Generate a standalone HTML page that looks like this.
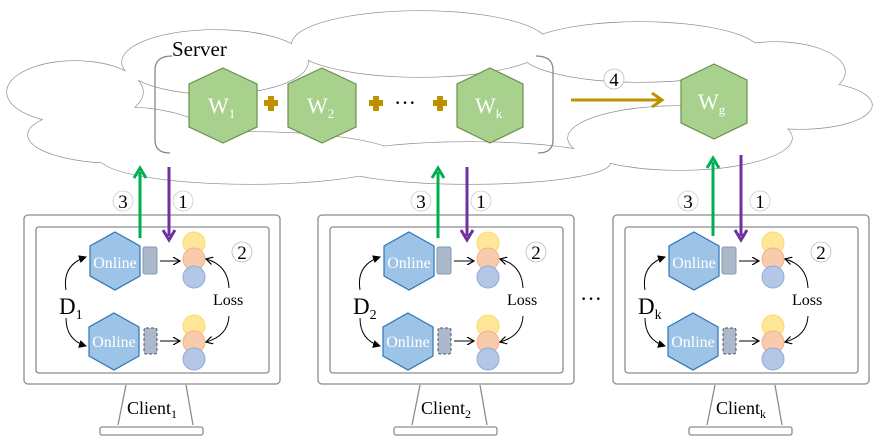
<!DOCTYPE html>
<html><head><meta charset="utf-8"><style>
html,body{margin:0;padding:0;background:#fff;font-family:"Liberation Serif","Times New Roman","DejaVu Serif",serif;}
svg{display:block;}
text,tspan{font-family:"Liberation Serif","Times New Roman","DejaVu Serif",serif !important;}
</style></head><body>
<svg width="884" height="447" viewBox="0 0 884 447" xmlns="http://www.w3.org/2000/svg" style="font-family:'Liberation Serif','Times New Roman','DejaVu Serif',serif">
<defs>
<marker id="ab" markerWidth="8" markerHeight="8" refX="7" refY="4" orient="auto" markerUnits="userSpaceOnUse"><path d="M0,0 L7,4 L0,8" fill="none" stroke="#000" stroke-width="1.2"/></marker>
<marker id="af" markerWidth="8" markerHeight="8" refX="7" refY="4" orient="auto" markerUnits="userSpaceOnUse"><path d="M0,0 L8,4 L0,8 z" fill="#000"/></marker>
</defs>
<g fill="none" stroke="#8a8a8a" stroke-width="1.3">
<ellipse cx="75" cy="92" rx="68" ry="31"/>
<ellipse cx="118" cy="135" rx="90" ry="28"/>
<ellipse cx="215" cy="62" rx="93" ry="32"/>
<ellipse cx="250" cy="158" rx="150" ry="26"/>
<ellipse cx="420" cy="44" rx="128" ry="33"/>
<ellipse cx="640" cy="52" rx="120" ry="30"/>
<ellipse cx="775" cy="72" rx="70" ry="30"/>
<ellipse cx="800" cy="105" rx="72" ry="24"/>
<ellipse cx="680" cy="138" rx="112" ry="32"/>
<ellipse cx="470" cy="163" rx="140" ry="21"/>
</g>
<g fill="#fff" stroke="none">
<ellipse cx="75" cy="92" rx="68" ry="31"/>
<ellipse cx="118" cy="135" rx="90" ry="28"/>
<ellipse cx="215" cy="62" rx="93" ry="32"/>
<ellipse cx="250" cy="158" rx="150" ry="26"/>
<ellipse cx="420" cy="44" rx="128" ry="33"/>
<ellipse cx="640" cy="52" rx="120" ry="30"/>
<ellipse cx="775" cy="72" rx="70" ry="30"/>
<ellipse cx="800" cy="105" rx="72" ry="24"/>
<ellipse cx="680" cy="138" rx="112" ry="32"/>
<ellipse cx="470" cy="163" rx="140" ry="21"/>
</g>
<text x="172" y="56" font-size="21">Server</text>
<path d="M172,56 Q155,56 155,70 L155,140 Q155,153 170,153" fill="none" stroke="#888" stroke-width="1.3"/>
<path d="M536,56 Q553,56 553,70 L553,140 Q553,153 538,153" fill="none" stroke="#888" stroke-width="1.3"/>
<g fill="#a9d18e" stroke="#6b8f4a" stroke-width="1.2">
<polygon points="223,68 257,84 257,127 223,143 189,127 189,84"/>
<polygon points="322,68 356,84 356,127 322,143 288,127 288,84"/>
<polygon points="490,68 523,84 523,127 490,143 457,127 457,84"/>
<polygon points="714,64 747,80 747,123 714,139 681,123 681,80"/>
</g>
<g fill="#fff" font-size="22">
<text x="208" y="113">W<tspan font-size="13" dy="5">1</tspan></text>
<text x="307" y="113">W<tspan font-size="13" dy="5">2</tspan></text>
<text x="475" y="113">W<tspan font-size="13" dy="5">k</tspan></text>
<text x="698" y="109">W<tspan font-size="13" dy="5">g</tspan></text>
</g>
<g fill="#bf9000">
<rect x="268" y="96" width="6" height="15"/><rect x="264" y="100" width="14" height="6"/>
<rect x="373" y="96" width="6" height="15"/><rect x="369" y="100" width="14" height="6"/>
<rect x="437" y="96" width="6" height="15"/><rect x="433" y="100" width="14" height="6"/>
</g>
<text x="394" y="110" font-size="22">···</text>
<line x1="571" y1="100" x2="660" y2="100" stroke="#bf9000" stroke-width="3"/>
<path d="M652,93 L662,100 L652,107" fill="none" stroke="#bf9000" stroke-width="3"/>
<circle cx="614" cy="79" r="10" fill="#fff" stroke="#bbb" stroke-width="0.8"/>
<text x="614" y="86" font-size="19" text-anchor="middle">4</text>

<g id="mon" fill="#fff" stroke="#8c8c8c" stroke-width="1.3">
<rect x="24" y="215" width="256" height="169" rx="4"/>
<rect x="36" y="227" width="233" height="146" rx="3"/>
<path d="M126,385 L118,425 M186,385 L193,425"/>
<rect x="100" y="427" width="103" height="8" rx="2"/>
</g>
<use href="#mon" x="294"/>
<use href="#mon" x="589"/>

<g id="cc">
<polygon points="115,232 140,246 140,276 115,290 90,276 90,246" fill="#9dc3e6" stroke="#2e75b6" stroke-width="1.2"/>
<polygon points="114,313 139,327 139,356 114,370 89,356 89,327" fill="#9dc3e6" stroke="#2e75b6" stroke-width="1.2"/>
<text x="115" y="268" font-size="16" fill="#fff" text-anchor="middle">Online</text>
<text x="114" y="347" font-size="16" fill="#fff" text-anchor="middle">Online</text>
<rect x="143" y="247" width="14" height="27" rx="2" fill="#acb9ca" stroke="#8497b0"/>
<rect x="144" y="328" width="13" height="26" rx="2" fill="#acb9ca" stroke="#44546a" stroke-dasharray="3,2"/>
<line x1="160" y1="261" x2="180" y2="261" stroke="#000" stroke-width="1" marker-end="url(#ab)"/>
<line x1="160" y1="341" x2="180" y2="341" stroke="#000" stroke-width="1" marker-end="url(#ab)"/>
<g stroke-width="1">
<circle cx="194" cy="243" r="11" fill="#ffe699" stroke="#ffd966"/>
<circle cx="194" cy="259" r="11" fill="#f8cbad" stroke="#f4b183"/>
<circle cx="194" cy="277" r="11" fill="#b4c7e7" stroke="#8faadc"/>
<circle cx="194" cy="326" r="11" fill="#ffe699" stroke="#ffd966"/>
<circle cx="194" cy="342" r="11" fill="#f8cbad" stroke="#f4b183"/>
<circle cx="194" cy="359" r="11" fill="#b4c7e7" stroke="#8faadc"/>
</g>
<path d="M66,290 Q62,265 86,257" fill="none" stroke="#000" marker-end="url(#af)"/>
<path d="M66,318 Q66,340 86,346" fill="none" stroke="#000" marker-end="url(#af)"/>
<path d="M229,288 Q228,265 206,259" fill="none" stroke="#000" marker-end="url(#ab)"/>
<path d="M229,316 Q228,336 206,342" fill="none" stroke="#000" marker-end="url(#ab)"/>
<text x="213" y="305" font-size="16">Loss</text>
<circle cx="242" cy="252" r="10" fill="#fff" stroke="#bbb" stroke-width="0.8"/>
<text x="242" y="259" font-size="19" text-anchor="middle">2</text>
</g>
<use href="#cc" x="294"/>
<use href="#cc" x="579"/>
<text x="59" y="314" font-size="23">D<tspan font-size="14" dy="5">1</tspan></text>
<text x="127" y="414" font-size="18">Client<tspan font-size="12" dy="4">1</tspan></text>
<text x="353" y="314" font-size="23">D<tspan font-size="14" dy="5">2</tspan></text>
<text x="421" y="414" font-size="18">Client<tspan font-size="12" dy="4">2</tspan></text>
<text x="638" y="314" font-size="23">D<tspan font-size="14" dy="5">k</tspan></text>
<text x="716" y="414" font-size="18">Client<tspan font-size="12" dy="4">k</tspan></text>
<text x="580" y="306" font-size="22">···</text>

<g id="va">
<line x1="140" y1="238" x2="140" y2="172" stroke="#00b050" stroke-width="3"/>
<path d="M134,178 L140,168 L146,178" fill="none" stroke="#00b050" stroke-width="3"/>
<line x1="169" y1="167" x2="169" y2="236" stroke="#7030a0" stroke-width="3"/>
<path d="M163,230 L169,240 L175,230" fill="none" stroke="#7030a0" stroke-width="3"/>
<circle cx="123" cy="201" r="10" fill="#fff" stroke="#ccc" stroke-width="0.8"/>
<text x="123" y="208" font-size="19" text-anchor="middle">3</text>
<circle cx="183" cy="201" r="10" fill="#fff" stroke="#ccc" stroke-width="0.8"/>
<text x="183" y="208" font-size="19" text-anchor="middle">1</text>
</g>
<use href="#va" x="298"/>
<g transform="translate(573,-10)">
<line x1="140" y1="246" x2="140" y2="172" stroke="#00b050" stroke-width="3"/>
<path d="M134,178 L140,168 L146,178" fill="none" stroke="#00b050" stroke-width="3"/>
<line x1="168" y1="165" x2="168" y2="246" stroke="#7030a0" stroke-width="3"/>
<path d="M162,240 L168,250 L174,240" fill="none" stroke="#7030a0" stroke-width="3"/>
</g>
<circle cx="688" cy="201" r="10" fill="#fff" stroke="#ccc" stroke-width="0.8"/>
<text x="688" y="208" font-size="19" text-anchor="middle">3</text>
<circle cx="760" cy="201" r="10" fill="#fff" stroke="#ccc" stroke-width="0.8"/>
<text x="760" y="208" font-size="19" text-anchor="middle">1</text>
</svg>
</body></html>
